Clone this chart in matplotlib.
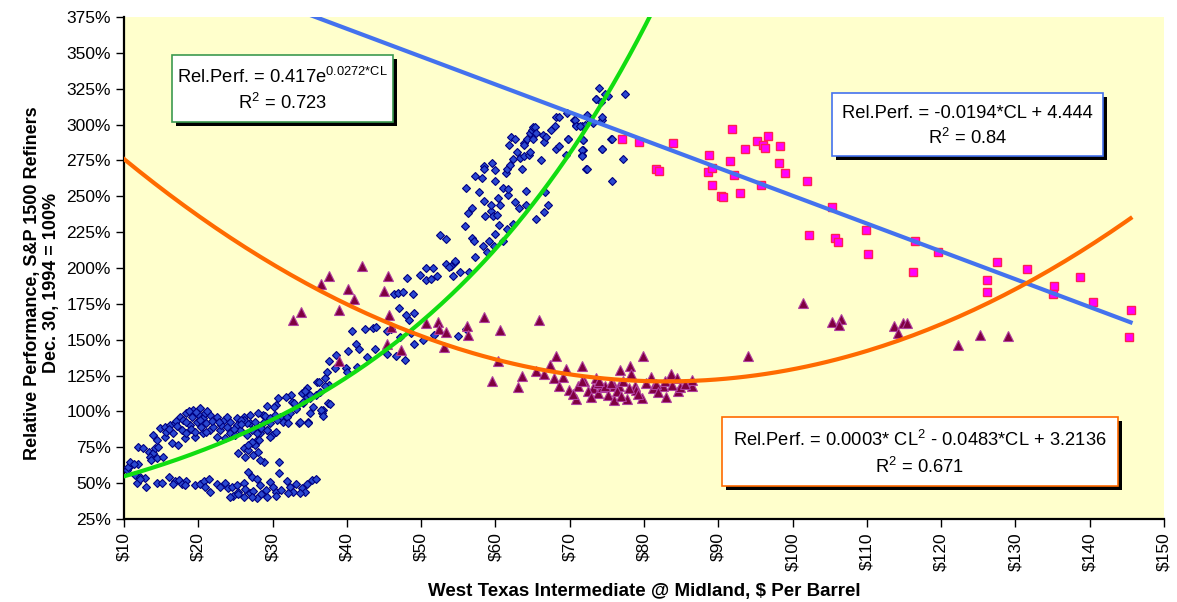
import numpy as np
import matplotlib
matplotlib.use("Agg")
import matplotlib.pyplot as plt
from matplotlib.patches import Rectangle
from matplotlib.ticker import FuncFormatter, MultipleLocator

plt.rcParams['font.family'] = ['Liberation Sans', 'DejaVu Sans']
plt.rcParams['mathtext.fontset'] = 'custom'
plt.rcParams['mathtext.rm'] = 'Liberation Sans'
plt.rcParams['mathtext.it'] = 'Liberation Sans'
plt.rcParams['mathtext.bf'] = 'Liberation Sans:bold'

# --- data: (WTI $/bbl, relative performance %) ---
blue_low = [(10.4, 59), (11.0, 62.6), (11.9, 63.3), (11.5, 55.6), (12.2, 54.4), (12.8, 53.3),
            (11.7, 49.8), (13.0, 47.4), (12.2, 52.6), (14.4, 49.8), (15.1, 49.8), (16.1, 54),
            (16.9, 51.6), (17.4, 52.1), (18.4, 51.6), (16.6, 49.3), (17.8, 49.3), (18.2, 48.6),
            (19.6, 48.6), (20.2, 49.3), (20.8, 51.6), (21.5, 52.6), (20.9, 47.4), (21.6, 43.9),
            (22.5, 49.3), (22.9, 47.4), (23.6, 50.2), (24.0, 46.3), (24.5, 47.4), (24.7, 40.9),
            (25.4, 43.9), (25.2, 48.6), (26.1, 50.2), (26.7, 57.9), (27.2, 54.0), (26.3, 45.6),
            (26.9, 42.8), (27.4, 44.7), (27.9, 52.6), (28.3, 48.6), (28.5, 42.3), (29.1, 45.1),
            (29.6, 50.9), (30.1, 47.4), (30.5, 43.9), (30.9, 56.8), (31.2, 45.1), (31.9, 51.6),
            (32.4, 47.0), (32.8, 43.9), (33.2, 49.3), (33.9, 46.3), (34.6, 49.3), (35.3, 52.1),
            (35.9, 52.6), (34.4, 43.9), (33.7, 42.8), (32.1, 42.8), (30.5, 40.9), (29.2, 40.0),
            (27.9, 39.3), (27.2, 40.5), (26.1, 40.0), (25.4, 42.3), (24.3, 40.5)]

blue_band = [(10.6, 61.4), (10.8, 64.9), (11.3, 63.3), (11.9, 75.4), (12.6, 74.2), (13.3, 71.9),
             (13.9, 70.7), (13.5, 68.4), (14.2, 74.2), (14.6, 75.4), (13.7, 66.1), (14.4, 67.2),
             (15.3, 68.4), (13.9, 83.6), (14.8, 88.2), (15.5, 89.4), (16.2, 90.5), (16.9, 91.7),
             (14.4, 80.1), (15.5, 82.4), (16.4, 77.7), (17.3, 76.6), (18.2, 81.2), (17.5, 96.4),
             (18.4, 98.7), (19.3, 101.0), (20.2, 102.2), (17.8, 87.0), (18.9, 90.5), (19.8, 92.9),
             (20.7, 95.2), (21.6, 97.5), (22.5, 96.4), (23.4, 94.0), (24.3, 92.9), (25.2, 95.2),
             (26.1, 96.4), (27.0, 91.7), (27.9, 89.4), (28.8, 92.9), (29.6, 91.7), (30.5, 96.4),
             (31.4, 92.9), (32.3, 98.7), (33.2, 102.2), (34.1, 105.7), (35.0, 109.2), (35.9, 111.5),
             (28.3, 84.7), (29.2, 87.0), (29.9, 83.6), (30.5, 85.9), (18.4, 84.7), (19.6, 82.4),
             (20.7, 84.7), (21.6, 87.0), (22.9, 87.0), (24.3, 84.7), (25.6, 87.0), (26.5, 83.6),
             (20.2, 94.0), (21.1, 91.7), (22.0, 89.4), (23.1, 90.5), (23.8, 89.4), (25.4, 70.7),
             (26.1, 74.2), (26.7, 73.1), (27.2, 77.7), (27.9, 80.1), (26.3, 68.4), (27.4, 69.6),
             (28.1, 71.9), (28.8, 64.9), (27.6, 76.6), (30.8, 64.9), (28.3, 66.1), (18.0, 94.0),
             (19.1, 96.4), (20.0, 98.2), (20.9, 98.7), (18.4, 92.9), (16.6, 84.7), (15.7, 85.9),
             (22.5, 82.4), (24.9, 83.6), (27.2, 87.0), (23.6, 81.2), (33.9, 112.7), (34.6, 110.3),
             (36.4, 113.8), (36.8, 101.0), (37.5, 105.7), (36.6, 98.7), (34.8, 92.9),
             (27.0, 97.6), (27.6, 92.9), (26.5, 91.8), (26.1, 94.1), (28.5, 88.3), (29.2, 87.1),
             (29.7, 82.5), (27.9, 84.8), (28.2, 80.1), (27.2, 79.0), (26.7, 76.6), (25.2, 90.6),
             (25.8, 94.1), (28.7, 97.6), (29.0, 96.9), (28.1, 99.2), (30.3, 97.6), (31.0, 96.4),
             (30.6, 94.1), (31.9, 96.4), (32.1, 91.8), (33.5, 91.8), (29.7, 95.3), (30.5, 104.6),
             (30.2, 103.4), (29.2, 104.0), (30.7, 109.2), (33.2, 101.6), (33.7, 92.9), (34.8, 92.2),
             (35.0, 99.2), (35.5, 103.0), (36.5, 101.1), (36.8, 97.1), (37.7, 105.3),
             (17.0, 93.5), (18.8, 100.5), (19.7, 99.5), (21.2, 100.0), (19.0, 88.0), (20.4, 89.0),
             (21.8, 93.5), (22.8, 92.5), (17.2, 90.0), (16.0, 87.5), (23.9, 96.0), (24.8, 88.0),
             (25.7, 91.5), (19.5, 85.5), (21.0, 86.0)]

blue_rise = [(32.5, 111.6), (31.8, 110.4), (32.6, 106.9), (32.9, 105.8), (34.7, 116.2), (34.4, 113.9),
             (35.0, 111.6), (34.1, 106.9), (36.0, 120.2), (36.3, 120.2), (37.6, 118.6), (37.1, 117.9),
             (37.0, 123.2), (37.3, 127.4), (38.4, 130.2), (39.9, 130.2), (40.0, 127.4), (41.3, 130.9),
             (37.6, 135.3), (38.5, 139.5), (40.1, 142.3), (41.2, 147.2), (41.7, 143.7), (42.7, 137.7),
             (43.8, 143.7), (45.4, 140.2), (46.6, 138.8), (47.8, 136.0), (40.7, 155.8), (42.4, 157.5),
             (43.5, 158.0), (43.9, 158.9), (45.4, 155.8), (46.0, 157.5), (47.2, 151.9), (49.1, 147.2),
             (50.3, 150.0), (51.7, 153.5), (54.9, 152.3), (56.0, 157.5), (48.6, 154.7), (48.3, 163.5),
             (48.0, 167.5), (49.1, 168.6), (47.0, 172.1), (46.3, 182.2), (46.9, 182.6), (47.5, 183.1),
             (48.9, 182.2), (48.1, 193.1), (49.8, 195.4), (50.7, 200), (51.6, 200), (50.6, 191.5),
             (51.3, 192.4), (52.1, 194.3), (53.4, 203.1), (54.0, 201.7), (54.6, 204), (54.3, 194.3),
             (55.2, 197.5), (56.5, 197.5), (57.2, 207.8), (58.8, 211),
             (52.6, 223), (53.4, 220), (53.8, 201), (54.5, 205), (55.9, 229), (56.8, 221), (57.1, 219),
             (58.3, 215), (59.1, 219), (59.8, 215), (59.9, 224), (60.5, 230), (61.0, 219), (61.6, 227),
             (62.4, 231), (58.6, 236), (59.4, 240), (59.7, 236), (60.2, 237), (59.4, 244), (60.6, 244),
             (56.8, 242), (56.3, 238), (57.8, 253), (58.4, 247), (60.4, 249), (61.7, 251), (62.7, 246),
             (63.2, 242), (64.1, 244), (64.1, 254), (61.0, 256), (61.7, 255), (60.0, 261), (57.3, 264),
             (56.1, 256), (58.2, 263), (58.4, 271), (58.5, 269), (59.6, 273), (59.9, 268), (61.4, 266),
             (61.5, 269), (62.0, 272), (62.4, 276), (63.3, 277), (63.6, 269), (63.9, 278), (64.5, 279),
             (64.6, 281), (62.9, 281), (61.8, 286), (62.1, 291), (62.6, 290), (63.9, 287), (64.2, 290),
             (63.8, 286), (64.6, 294), (64.9, 296), (65.1, 298), (65.3, 298), (65.5, 294), (65.1, 290),
             (66.2, 275), (66.5, 288), (66.4, 293), (66.8, 291), (67.5, 296), (68.0, 299), (68.2, 305),
             (68.6, 305), (68.2, 283), (68.6, 285), (69.8, 290), (69.5, 279), (71.6, 279), (71.8, 282),
             (71.8, 289), (72.2, 269), (70.6, 303), (70.9, 300), (71.6, 299), (72.0, 300), (72.7, 303),
             (73.5, 318), (74.4, 303), (75.6, 290), (74.4, 283), (75.7, 261), (65.5, 234), (66.5, 239),
             (67.1, 244), (66.7, 253),
             (74.0, 325.8), (74.7, 321), (73.6, 318), (74.2, 316), (75.2, 320), (77.4, 321), (74.4, 305),
             (75.7, 290), (77.2, 276), (72.3, 269), (71.7, 282), (71.8, 289), (71.6, 278), (74.4, 283),
             (69.8, 290), (70.7, 303), (70.8, 299), (71.4, 299), (69.7, 308), (72.3, 307), (73.2, 301)]

tri_pts = [(32.8, 163.5), (33.8, 169.3), (36.5, 188.9), (37.6, 194.7), (42.0, 201.7), (40.2, 185.4),
           (40.9, 178.4), (38.9, 171.0), (45.6, 194.7), (45.0, 183.8), (45.7, 167.5), (46.0, 158.9),
           (45.4, 147.0), (47.3, 143.0), (39.0, 134.9), (50.7, 161.7), (52.3, 162.4), (52.4, 157.7),
           (53.4, 155.1), (53.1, 144.9), (56.2, 159.8), (56.3, 153.5), (58.5, 165.6), (60.6, 157.0),
           (60.4, 135.3), (65.9, 164.0), (59.6, 121.4), (63.1, 116.7), (63.6, 124.9), (65.5, 127.9),
           (66.5, 126.0), (67.3, 132.5), (68.1, 138.8), (67.9, 123.2), (68.5, 117.4), (69.5, 129.5),
           (69.1, 123.9), (70.8, 108.6), (71.1, 117.4), (71.7, 131.4), (71.9, 120.9), (73.5, 123.2),
           (73.2, 116.2), (73.8, 112.7), (74.3, 116.9), (75.2, 111.6), (75.9, 117.4), (76.0, 108.1),
           (76.8, 128.6), (76.7, 117.4), (77.7, 108.5), (78.1, 131.4), (78.3, 126.3), (78.8, 117.4),
           (79.8, 138.4), (79.7, 109.2), (80.9, 123.9), (81.2, 116.2), (82.5, 117.4), (83.0, 110.4),
           (83.6, 126.3), (84.5, 123.2), (84.6, 113.9), (86.4, 117.4), (86.4, 122.1), (73.8, 119.7),
           (74.7, 117.4), (76.3, 113.9), (78.9, 114.6), (81.6, 119.3), (84.8, 117.0), (71.6, 120.9),
           (69.9, 115.0), (70.5, 112.0), (72.5, 114.5), (74.0, 121.5), (75.5, 120.0), (77.2, 121.0),
           (79.2, 112.5), (80.3, 119.5), (81.9, 113.5), (82.8, 121.0), (83.8, 118.5), (85.5, 119.0),
           (72.8, 110.0), (76.9, 111.0), (78.0, 116.0),
           (94.0, 138.8), (101.4, 175.8), (105.3, 162.4), (106.5, 164.5), (106.2, 160.0),
           (113.6, 159.7), (114.2, 155.0), (114.8, 161.5), (115.4, 162.0), (122.3, 146.5),
           (125.2, 153.5), (129.0, 152.5)]

sq_pts = [(77.0, 290.2), (79.3, 287.6), (83.9, 287.4), (81.6, 268.8), (82.0, 267.9), (88.7, 279.0),
          (88.6, 267.2), (89.2, 269.5), (89.1, 257.8), (90.4, 250.1), (90.7, 249.2), (91.6, 274.8),
          (92.1, 264.6), (92.9, 252.5), (91.8, 297.0), (93.6, 283.2), (95.2, 288.6), (96.0, 285.6),
          (96.3, 283.9), (96.7, 291.9), (98.3, 284.9), (98.2, 273.2), (99.0, 266.4), (95.7, 257.8),
          (101.9, 260.4), (102.2, 222.7), (105.3, 242.2), (105.7, 220.6), (106.1, 217.8),
          (109.9, 226.2), (110.1, 210.1), (116.5, 218.5), (116.2, 197.5), (119.6, 211.5),
          (126.2, 191.9), (126.2, 183.5), (127.5, 204.5), (131.5, 199.6), (135.2, 187.7),
          (135.0, 182.1), (138.7, 194.0), (140.4, 176.5), (145.5, 171.0), (145.3, 152.1)]

# trendline coefficients (as shown in the equation boxes)
exp_a, exp_b = 0.417, 0.0272
lin_m, lin_c = -0.0194, 4.444
quad_a, quad_b, quad_c = 0.000291, -0.0483, 3.2136

fig = plt.figure(figsize=(11.77, 6.02), dpi=100)
ax = fig.add_axes([124 / 1177, 1 - 519 / 602, (1164 - 124) / 1177, (519 - 17) / 602])
ax.set_facecolor('#FFFFCC')

bx, by = zip(*(blue_low + blue_band + blue_rise))
ax.plot(bx, by, 'D', ms=3.8, mfc='#2A48D0', mec='#000080', mew=0.8, zorder=3)
tx, ty = zip(*tri_pts)
ax.plot(tx, ty, '^', ms=7, mfc='#800040', mec='#B040A0', mew=0.8, zorder=3)
sx, sy = zip(*sq_pts)
ax.plot(sx, sy, 's', ms=6, mfc='#FF00FF', mec='#FF2050', mew=1.0, zorder=3)

xg = np.linspace(10, 82, 200)
ax.plot(xg, 100 * exp_a * np.exp(exp_b * xg), color='#11DD11', lw=3, zorder=4)
xl = np.linspace(10, 145.5, 50)
ax.plot(xl, 100 * (lin_m * xl + lin_c), color='#4472EE', lw=3, zorder=4)
xq = np.linspace(10, 145.5, 200)
ax.plot(xq, 100 * (quad_a * xq ** 2 + quad_b * xq + quad_c), color='#FF6A00', lw=3, zorder=4)

ax.set_xlim(10, 150)
ax.set_ylim(25, 375)
ax.xaxis.set_major_locator(MultipleLocator(10))
ax.yaxis.set_major_locator(MultipleLocator(25))
ax.xaxis.set_major_formatter(FuncFormatter(lambda v, p: '$%d' % v))
ax.yaxis.set_major_formatter(FuncFormatter(lambda v, p: '%d%%' % v))
ax.tick_params(axis='x', labelrotation=90, labelsize=12.5, length=6, width=1, direction='out')
ax.tick_params(axis='y', labelsize=12.5, length=6, width=1, direction='out')
ax.spines['top'].set_visible(False)
ax.spines['right'].set_visible(False)
ax.spines['left'].set_linewidth(1.6)
ax.spines['bottom'].set_linewidth(1.6)

ax.set_xlabel('West Texas Intermediate @ Midland, \\$ Per Barrel', fontsize=13.5,
              fontweight='bold')
ax.xaxis.set_label_coords(0.5, -0.128)
ax.set_ylabel('Relative Performance, S&P 1500 Refiners\nDec. 30, 1994 = 100%', fontsize=13,
              fontweight='bold', linespacing=1.1)
ax.yaxis.set_label_coords(-0.062, 0.47)


def eq_box(x0, y0, x1, y1, edge, lines):
    W, H = 1177, 602
    fig.add_artist(Rectangle((x0 / W + 4 / W, 1 - (y1 + 4) / H), (x1 - x0) / W, (y1 - y0) / H,
                             transform=fig.transFigure, fc='black', ec='none', zorder=5))
    fig.add_artist(Rectangle((x0 / W, 1 - y1 / H), (x1 - x0) / W, (y1 - y0) / H,
                             transform=fig.transFigure, fc='white', ec=edge, lw=1.2, zorder=6))
    cx = (x0 + x1) / 2 / W
    h = (y1 - y0)
    fig.text(cx, 1 - (y0 + h * 0.33) / H, lines[0], ha='center', va='center', fontsize=13.2, zorder=7)
    fig.text(cx, 1 - (y0 + h * 0.72) / H, lines[1], ha='center', va='center', fontsize=13.2, zorder=7)


eq_box(172, 55, 393, 122, '#3C9A50',
       [r'Rel.Perf. = 0.417e$^{\mathregular{0.0272{*}CL}}$', r'R$^{\mathregular{2}}$ = 0.723'])
eq_box(832, 93, 1103, 156, '#4472EE',
       ['Rel.Perf. = -0.0194*CL + 4.444', r'R$^{\mathregular{2}}$ = 0.84'])
eq_box(722, 417, 1118, 486, '#FF6A00',
       [r'Rel.Perf. = 0.0003* CL$^{\mathregular{2}}$ - 0.0483*CL + 3.2136', r'R$^{\mathregular{2}}$ = 0.671'])

fig.savefig('out.png', dpi=100)
